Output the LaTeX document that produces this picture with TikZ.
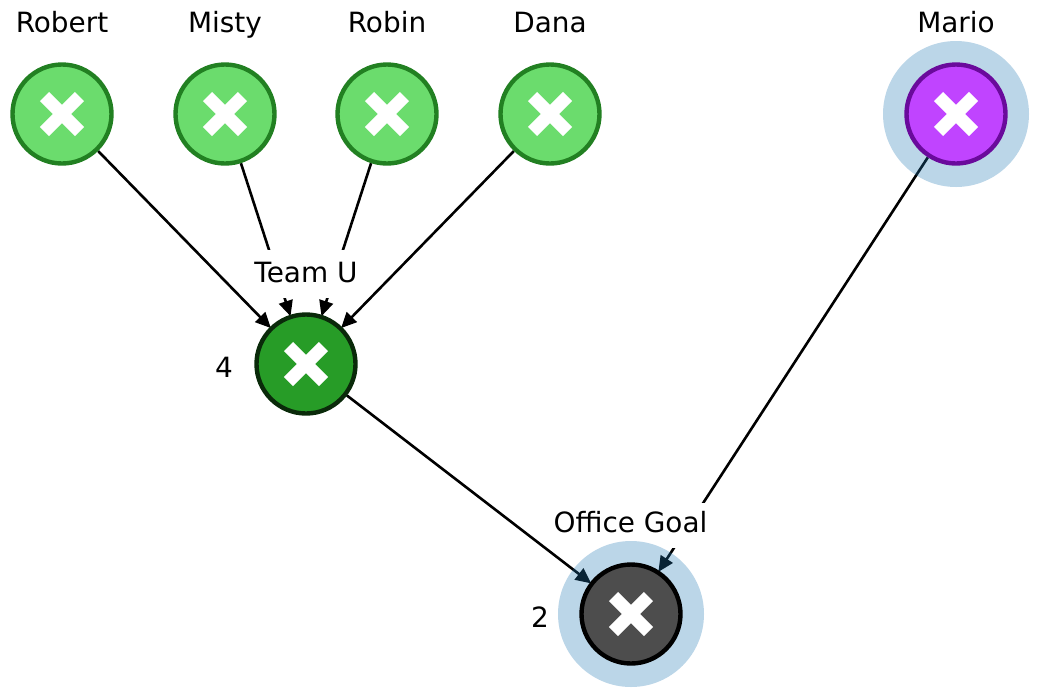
\documentclass[tikz,border=0pt]{standalone}
\usepackage{fontspec}
\setmainfont{DejaVu Sans}
\usetikzlibrary{arrows.meta}
\pgfdeclarelayer{bottom}
\pgfdeclarelayer{edges}
\pgfdeclarelayer{boxes}
\pgfdeclarelayer{halos}
\pgfsetlayers{bottom,edges,boxes,halos,main}
\definecolor{gfill}{HTML}{6BDC6D}
\definecolor{gline}{HTML}{228022}
\definecolor{tfill}{HTML}{279C27}
\definecolor{tline}{HTML}{0A2A0A}
\definecolor{pfill}{HTML}{C044FF}
\definecolor{pline}{HTML}{6A0A9C}
\definecolor{dfill}{HTML}{4D4D4D}
\definecolor{hcol}{HTML}{1F78B4}
\tikzset{
  base node/.style={circle,line width=4.4pt,minimum size=99pt,inner sep=0pt},
  person/.style={base node,draw=gline,fill=gfill},
  team/.style={base node,draw=tline,fill=tfill},
  boss/.style={base node,draw=pline,fill=pfill},
  goal/.style={base node,draw=black,fill=dfill},
  halo/.style={circle,fill=hcol,fill opacity=0.3,minimum size=146pt,inner sep=0pt},
  lbl/.style={font=\fontsize{27.9pt}{30pt}\selectfont,anchor=base,inner sep=0pt,text=black},
  boxlbl/.style={lbl,fill=white,inner xsep=3pt},
  edge/.style={-{Triangle[length=15.5pt,width=14pt]},line width=2.6pt,black,shorten >=-1.5pt},
  crossbar/.style={white,line width=13pt,line cap=butt,line join=round}
}
\newcommand{\crossat}[1]{%
  \draw[crossbar] ([shift={(-17.5pt,-17.5pt)}]#1.center) -- ([shift={(17.5pt,17.5pt)}]#1.center);
  \draw[crossbar] ([shift={(-17.5pt,17.5pt)}]#1.center) -- ([shift={(17.5pt,-17.5pt)}]#1.center);
}
\begin{document}
\begin{tikzpicture}[x=1pt,y=-1pt]
\begin{pgfonlayer}{bottom}
\path[use as bounding box,fill=white] (0,0) rectangle (1039,697);
\end{pgfonlayer}
\node[person] (robert) at (62,114) {};
\node[person] (misty) at (225,114) {};
\node[person] (robin) at (387,114) {};
\node[person] (dana) at (550,114) {};
\node[boss] (mario) at (956,114) {};
\node[team] (teamu) at (306,364) {};
\node[goal] (office) at (631,614) {};
\begin{pgfonlayer}{halos}
\node[halo] (mariohalo) at (956,114) {};
\node[halo] (officehalo) at (631,614) {};
\end{pgfonlayer}
\foreach \n in {robert,misty,robin,dana,mario,teamu,office}{\crossat{\n}}
\node[lbl] (lrobert) at (62,32) {Robert};
\node[lbl] (lmisty) at (225,32) {Misty};
\node[lbl] (lrobin) at (387,32) {Robin};
\node[lbl] (ldana) at (550,32) {Dana};
\node[lbl] (lmario) at (956,32) {Mario};
\node[lbl] (lfour) at (224,377) {4};
\node[lbl] (ltwo) at (540,627) {2};
\begin{pgfonlayer}{boxes}
\node[boxlbl,text height=32pt,text depth=16pt] (lteam) at (306,282) {Team U};
\node[boxlbl,text height=29pt,text depth=16pt] (loffice) at (630.5,532) {Office Goal};
\end{pgfonlayer}
\begin{pgfonlayer}{edges}
\draw[edge] (robert) -- (teamu);
\draw[edge] (misty) -- (teamu);
\draw[edge] (robin) -- (teamu);
\draw[edge] (dana) -- (teamu);
\draw[edge] (teamu) -- (office);
\draw[edge] (mario) -- (office);
\end{pgfonlayer}
\end{tikzpicture}
\end{document}
